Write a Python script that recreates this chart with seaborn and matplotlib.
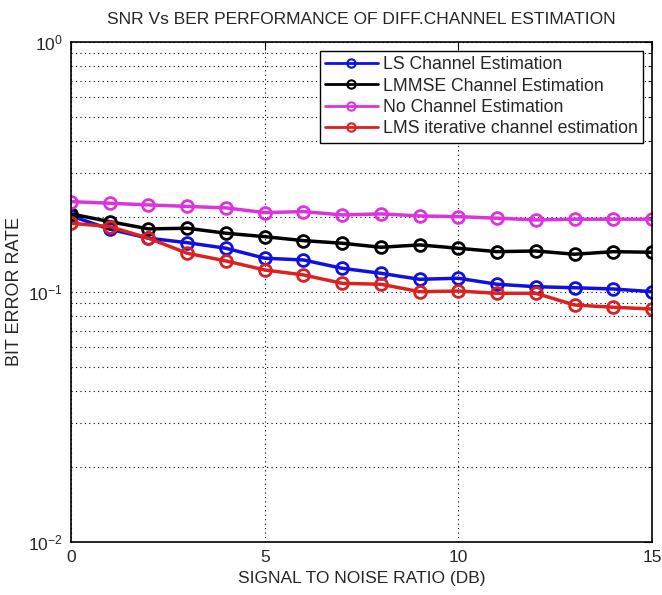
import numpy as np
import pandas as pd
import matplotlib
matplotlib.use('Agg')
import matplotlib.pyplot as plt
import seaborn as sns

snr_db = list(range(16))

ber_ls = [0.2015, 0.1783, 0.1641, 0.1575, 0.1496, 0.1365, 0.1343, 0.1244,
          0.1188, 0.1124, 0.1135, 0.1074, 0.1050, 0.1040, 0.1028, 0.1003]
ber_lmmse = [0.2053, 0.1912, 0.1788, 0.1799, 0.1718, 0.1665, 0.1605, 0.1567,
             0.1510, 0.1543, 0.1496, 0.1450, 0.1459, 0.1416, 0.1450, 0.1442]
ber_none = [0.2299, 0.2265, 0.2230, 0.2200, 0.2170, 0.2078, 0.2097, 0.2034,
            0.2053, 0.2015, 0.2002, 0.1973, 0.1942, 0.1955, 0.1955, 0.1955]
ber_lms = [0.1884, 0.1826, 0.1641, 0.1429, 0.1331, 0.1225, 0.1170, 0.1083,
           0.1074, 0.1003, 0.1009, 0.0988, 0.0988, 0.0887, 0.0869, 0.0855]

labels = ['LS Channel Estimation', 'LMMSE Channel Estimation',
          'No Channel Estimation', 'LMS iterative channel estimation']
colors = ['#1010e0', '#000000', '#dd33dd', '#dd2020']

df = pd.DataFrame({
    'snr': snr_db * 4,
    'ber': ber_ls + ber_lmmse + ber_none + ber_lms,
    'method': [m for m in labels for _ in snr_db],
})

sns.set_style('white')
plt.rcParams['font.family'] = ['Liberation Sans', 'DejaVu Sans']
plt.rcParams['mathtext.fontset'] = 'custom'
plt.rcParams['mathtext.rm'] = 'Liberation Sans'

fig = plt.figure(figsize=(6.62, 5.95), dpi=100)
ax = fig.add_axes([0.1073, 0.0891, 0.8776, 0.8403])

sns.lineplot(data=df, x='snr', y='ber', hue='method', hue_order=labels,
             palette=dict(zip(labels, colors)), marker='o', markersize=8.5,
             markerfacecolor='none', markeredgewidth=2.0, linewidth=2.5,
             ax=ax)
# seaborn paints marker edges white; give them the line colour (MATLAB look)
for ln in ax.lines:
    ln.set_markeredgecolor(ln.get_color())

ax.set_yscale('log')
ax.set_xlim(0, 15)
ax.set_ylim(1e-2, 1e0)
ax.set_xticks([0, 5, 10, 15])
ax.set_xticklabels(['0', '5', '10', '15'])

ax.grid(True, which='major', axis='x', color='black', linestyle=(0, (1, 3)), linewidth=0.8)
ax.grid(True, which='both', axis='y', color='black', linestyle=(0, (1, 3)), linewidth=0.8)

ax.tick_params(which='both', direction='in', top=True, right=True,
               labelsize=12.5, color='black', pad=6)
ax.tick_params(which='major', length=6)
ax.tick_params(which='minor', length=3)
for s in ax.spines.values():
    s.set_color('black')
    s.set_linewidth(1.2)

ax.set_title('SNR Vs BER PERFORMANCE OF DIFF.CHANNEL ESTIMATION', fontsize=12.5, pad=13)
ax.set_xlabel('SIGNAL TO NOISE RATIO (DB)', fontsize=12.5, labelpad=4)
ax.set_ylabel('BIT ERROR RATE', fontsize=13)
ax.yaxis.set_label_coords(-0.083, 0.5)

leg = ax.legend(loc='upper right', fontsize=12.7, frameon=True, fancybox=False,
                framealpha=1, edgecolor='black', handlelength=3.0,
                borderaxespad=0.5, labelspacing=0.25, handletextpad=0.3,
                borderpad=0.3)
leg.get_frame().set_linewidth(1.0)
for h in leg.get_lines():
    h.set_linewidth(2.0)
    h.set_markersize(6)
    h.set_markeredgewidth(1.5)

fig.savefig('out.png', dpi=100, facecolor='white')
